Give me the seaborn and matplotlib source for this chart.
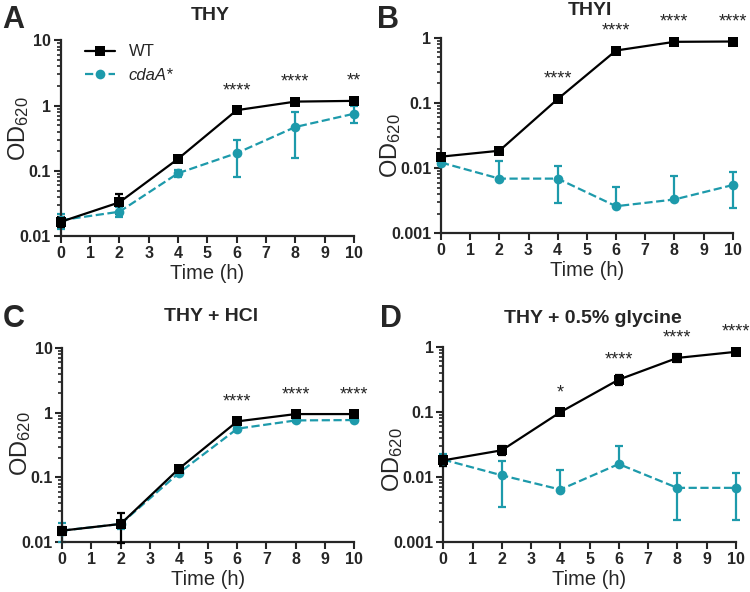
import numpy as np
import pandas as pd
import matplotlib
matplotlib.use("Agg")
import matplotlib.pyplot as plt
import seaborn as sns
from matplotlib.ticker import LogLocator, FuncFormatter, NullFormatter

# time points (h)
time = [0, 2, 4, 6, 8, 10]

# Panel A: THY
a_wt = [0.0166, 0.033, 0.153, 0.85, 1.15, 1.18]
a_wt_sd = [0.003, 0.011, 0.015, 0.05, 0.08, 0.08]
a_mut = [0.0176, 0.0237, 0.092, 0.187, 0.47, 0.75]
a_mut_lo = [0.0046, 0.004, 0.01, 0.105, 0.315, 0.21]
a_mut_hi = [0.0046, 0.004, 0.01, 0.106, 0.32, 0.25]
a_stars = ["", "", "", "****", "****", "**"]

# Panel B: THYI
b_wt = [0.0150, 0.0185, 0.115, 0.64, 0.87, 0.88]
b_wt_sd = [0.001, 0.001, 0.008, 0.04, 0.05, 0.05]
b_mut = [0.0122, 0.0069, 0.0069, 0.0026, 0.0033, 0.0055]
b_mut_lo = [0.001, 0.0, 0.004, 0.0, 0.0, 0.0031]
b_mut_hi = [0.001, 0.006, 0.004, 0.0025, 0.0042, 0.0031]
b_stars = ["", "", "****", "****", "****", "****"]

# Panel C: THY + HCl
c_wt = [0.015, 0.019, 0.136, 0.735, 0.953, 0.953]
c_wt_sd = [0.002, 0.0095, 0.015, 0.05, 0.05, 0.05]
c_mut = [0.015, 0.019, 0.117, 0.566, 0.76, 0.77]
c_mut_lo = [0.005, 0.003, 0.01, 0.03, 0.03, 0.03]
c_mut_hi = [0.005, 0.003, 0.01, 0.03, 0.03, 0.03]
c_stars = ["", "", "", "****", "****", "****"]

# Panel D: THY + 0.5% glycine
d_wt = [0.018, 0.0257, 0.099, 0.314, 0.677, 0.84]
d_wt_sd = [0.003, 0.004, 0.006, 0.05, 0.1, 0.05]
d_mut = [0.0185, 0.0106, 0.0064, 0.0158, 0.0068, 0.0068]
d_mut_lo = [0.004, 0.0072, 0.0, 0.0, 0.0046, 0.0046]
d_mut_hi = [0.004, 0.0072, 0.0063, 0.0146, 0.0047, 0.0047]
d_stars = ["", "", "*", "****", "****", "****"]

teal = "#1d9aab"

sns.set_style("ticks")
plt.rcParams["font.family"] = ["Liberation Sans", "DejaVu Sans"]
plt.rcParams["mathtext.default"] = "regular"

fig = plt.figure(figsize=(7.5, 5.92), dpi=100)

# axes rect, letter (x, baseline y), title baseline y, ylabel coords (axes frac)
panels = [
    ("A", "THY", [0.081, 0.601, 0.391, 0.331], (0.003, 0.953), 0.966, (-0.10, 0.55), (0.01, 10),
     a_wt, a_wt_sd, a_mut, a_mut_lo, a_mut_hi, a_stars),
    ("B", "THYI", [0.588, 0.606, 0.389, 0.330], (0.503, 0.953), 0.975, (-0.13, 0.45), (0.001, 1),
     b_wt, b_wt_sd, b_mut, b_mut_lo, b_mut_hi, b_stars),
    ("C", "THY + HCl", [0.083, 0.0845, 0.389, 0.3275], (0.004, 0.447), 0.458, (-0.10, 0.505), (0.01, 10),
     c_wt, c_wt_sd, c_mut, c_mut_lo, c_mut_hi, c_stars),
    ("D", "THY + 0.5% glycine", [0.591, 0.0845, 0.390, 0.3295], (0.507, 0.447), 0.455, (-0.13, 0.42), (0.001, 1),
     d_wt, d_wt_sd, d_mut, d_mut_lo, d_mut_hi, d_stars),
]

for letter, title, rect, lpos, ty, ylc, ylim, wt, wt_sd, mut, mut_lo, mut_hi, stars in panels:
    ax = fig.add_axes(rect)
    df = pd.DataFrame({"time": time, "WT": wt, "cdaA*": mut})

    # error bars first, then lines on top
    ax.errorbar(time, mut, yerr=[mut_lo, mut_hi], fmt="none", ecolor=teal,
                elinewidth=1.6, capsize=3.2, capthick=1.6, clip_on=False, zorder=2)
    ax.errorbar(time, wt, yerr=wt_sd, fmt="none", ecolor="black",
                elinewidth=1.6, capsize=3.2, capthick=1.6, clip_on=False, zorder=3)
    sns.lineplot(data=df, x="time", y="cdaA*", ax=ax, color=teal, marker="o",
                 markersize=7, markeredgewidth=0, linestyle="--", linewidth=1.6,
                 label="cdaA*", clip_on=False, zorder=4)
    sns.lineplot(data=df, x="time", y="WT", ax=ax, color="black", marker="s",
                 markersize=7.5, markeredgewidth=0, linewidth=1.6,
                 label="WT", clip_on=False, zorder=5)

    ax.set_yscale("log")
    ax.set_ylim(*ylim)
    ax.set_xlim(0, 10)
    ax.set_xticks(range(0, 11))
    ax.yaxis.set_major_locator(LogLocator(base=10))
    ax.yaxis.set_minor_locator(LogLocator(base=10, subs=np.arange(2, 10)))
    ax.yaxis.set_major_formatter(FuncFormatter(lambda v, p: f"{v:g}"))
    ax.yaxis.set_minor_formatter(NullFormatter())
    for lab in ax.get_xticklabels() + ax.get_yticklabels():
        lab.set_fontweight("bold")
    ax.tick_params(axis="both", which="major", length=5, width=1.5, labelsize=11.5, pad=2)
    ax.tick_params(axis="y", which="minor", length=3, width=1.2)
    for s in ["left", "bottom"]:
        ax.spines[s].set_linewidth(1.6)
    sns.despine(ax=ax)

    ax.set_xlabel("Time (h)", fontsize=14.5, labelpad=2.5)
    ax.set_ylabel("OD$_{620}$", fontsize=17)
    ax.yaxis.set_label_coords(*ylc)

    for t, v, s in zip(time, wt, stars):
        if s:
            ax.text(t, v * 2.0, s, ha="center", va="center", fontsize=13)

    if letter == "A":
        h, l = ax.get_legend_handles_labels()
        leg = ax.legend(h[::-1], l[::-1], loc="upper left", bbox_to_anchor=(0.05, 1.03),
                        frameon=False, fontsize=12, handlelength=1.8, borderaxespad=0.2)
        leg.get_texts()[1].set_fontstyle("italic")
    else:
        ax.get_legend().remove()

    pos = ax.get_position()
    fig.text(pos.x0 + pos.width * 0.51, ty, title, ha="center", va="baseline",
             fontsize=14, fontweight="bold")
    fig.text(lpos[0], lpos[1], letter, ha="left", va="baseline",
             fontsize=22, fontweight="bold")

fig.savefig("out.png", dpi=100)
